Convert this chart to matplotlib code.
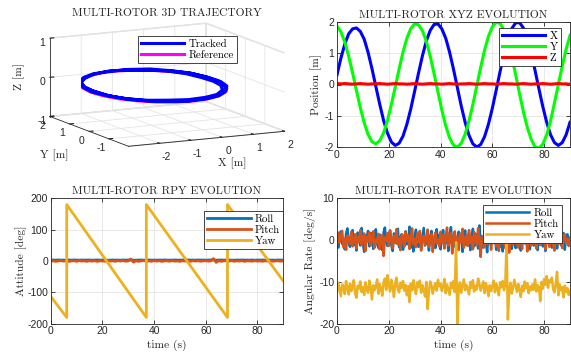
import numpy as np
import matplotlib
matplotlib.use("Agg")
import matplotlib.pyplot as plt

plt.rcParams['axes.unicode_minus'] = False
plt.rcParams['grid.color'] = '#e4e4e4'
plt.rcParams['grid.linewidth'] = 0.6

# ---- data ----
# position (top right), sampled every 1.5 s
pos_dt = 1.5
pos_x = [0.31, 0.84, 1.29, 1.62, 1.78, 1.81, 1.70, 1.45, 1.03, 0.51,
         -0.06, -0.63, -1.15, -1.56, -1.84, -1.95, -1.88, -1.65, -1.27, -0.78,
         -0.21, 0.37, 0.92, 1.39, 1.73, 1.92, 1.94, 1.78, 1.48, 1.03,
         0.49, -0.10, -0.69, -1.21, -1.63, -1.90, -2.00, -1.92, -1.67, -1.27,
         -0.76, -0.18, 0.42, 0.98, 1.45, 1.79, 1.97, 1.98, 1.81, 1.47,
         1.01, 0.45, -0.14, -0.71, -1.21, -1.61, -1.86, -1.95, -1.86, -1.61,
         -1.21]
pos_y = [1.87, 1.69, 1.36, 0.91, 0.38, -0.19, -0.74, -1.22, -1.60, -1.83,
         -1.90, -1.80, -1.55, -1.15, -0.64, -0.08, 0.50, 1.04, 1.48, 1.79,
         1.94, 1.91, 1.72, 1.38, 0.91, 0.35, -0.24, -0.82, -1.32, -1.71,
         -1.94, -2.00, -1.88, -1.59, -1.16, -0.63, -0.04, 0.55, 1.10, 1.54,
         1.85, 1.99, 1.96, 1.74, 1.38, 0.89, 0.32, -0.29, -0.87, -1.37,
         -1.75, -2.00, -2.04, -1.91, -1.61, -1.16, -0.59, 0.00, 0.59, 1.13,
         1.57]
pos_z = [0.03, 0.02, 0.03, 0.02, 0.01, 0.02, 0.03, 0.02, 0.01, 0.02,
         0.02, 0.03, 0.02, 0.01, 0.02, 0.03, 0.02, 0.02, 0.01, 0.02,
         0.03, 0.02, 0.01, 0.02, 0.03, 0.02, 0.02, 0.01, 0.02, 0.03,
         0.02, 0.01, 0.02, 0.02, 0.03, 0.02, 0.01, 0.02, 0.03, 0.02,
         0.02, 0.01, 0.02, 0.03, 0.02, 0.02, 0.01, 0.02, 0.03, 0.02,
         0.01, 0.02, 0.02, 0.03, 0.02, 0.01, 0.02, 0.03, 0.02, 0.02,
         0.01]

# reference circle for the 3D view (every 15 deg)
ref_x = [2.0, 1.93, 1.73, 1.41, 1.0, 0.52, 0.0, -0.52, -1.0, -1.41, -1.73, -1.93,
         -2.0, -1.93, -1.73, -1.41, -1.0, -0.52, 0.0, 0.52, 1.0, 1.41, 1.73, 1.93, 2.0]
ref_y = [0.0, 0.52, 1.0, 1.41, 1.73, 1.93, 2.0, 1.93, 1.73, 1.41, 1.0, 0.52,
         0.0, -0.52, -1.0, -1.41, -1.73, -1.93, -2.0, -1.93, -1.73, -1.41, -1.0, -0.52, 0.0]
ref_z = [0.0] * 25
traj_shift_x = -0.95   # the 3D ring sits left of x = 0 in the picture

# attitude (bottom left), roll / pitch every 1 s
att_dt = 1.0
roll_att = [2.8, 3.1, 2.6, 3.3, 2.9, 3.0, 2.5, 3.2, 2.7, 3.4, 2.9, 2.6, 3.1, 3.0, 2.8,
            3.3, 2.6, 2.9, 3.2, 2.7, 3.0, 3.1, 2.5, 2.9, 3.3, 2.8, 3.0, 2.6, 3.2, 2.9,
            3.1, 3.6, 2.4, 2.8, 3.0, 3.2, 2.7, 2.9, 3.3, 2.6, 3.0, 2.8, 3.1, 2.7, 3.4,
            2.9, 2.6, 3.0, 3.2, 2.8, 2.9, 3.1, 2.6, 3.3, 2.8, 3.0, 2.7, 3.2, 2.9, 3.1,
            2.6, 3.0, 3.3, 3.7, 2.3, 2.9, 3.1, 2.7, 3.0, 3.2, 2.8, 2.6, 3.1, 2.9, 3.3,
            2.7, 3.0, 2.8, 3.2, 2.6, 3.0, 2.9, 3.1, 2.7, 3.3, 2.8, 3.0, 2.6, 3.2, 2.9,
            3.0]
pitch_att = [-0.8, 0.6, -1.2, 0.3, 1.1, -0.5, 0.9, -1.4, 0.2, 0.7, -0.9, 1.3, -0.3, 0.5, -1.1,
             0.8, -0.6, 1.0, -1.3, 0.4, 0.1, -0.7, 1.2, -0.4, 0.6, -1.0, 0.9, -0.2, 1.4, -0.8,
             0.3, 6.5, -3.5, 0.7, -1.2, 0.5, 1.1, -0.6, 0.2, -0.9, 1.0, -0.3, 0.8, -1.4, 0.4,
             0.6, -0.7, 1.2, -0.5, 0.1, -1.0, 0.9, -0.2, 0.5, -1.3, 1.1, -0.4, 0.7, -0.8, 0.3,
             1.0, -0.6, 0.4, 7.5, -4.5, 0.8, -1.1, 0.2, 0.9, -0.5, 1.3, -0.9, 0.4, -0.2, 1.0,
             -1.2, 0.6, 0.1, -0.7, 1.1, -0.4, 0.5, -1.0, 0.8, -0.3, 1.2, -0.8, 0.2, 0.6, -0.5,
             0.3]
yaw_t = [0.0, 6.2, 6.2, 37.0, 37.0, 68.4, 68.4, 90.0]
yaw_att = [-113, -180, 180, -180, 180, -180, 180, -64]

# angular rates (bottom right), every 0.5 s
rate_dt = 0.5
roll_rate = [0.5, -1.8, 1.2, 2.1, -0.9, 0.3, -2.2, 1.5, 2.8, -0.4, -1.6, 0.9, 2.4, -1.1, 0.2, -2.5, 1.8, 0.6, -1.3, 2.9,
             -0.7, -2.8, 1.1, 0.4, 2.2, -1.5, -0.3, 1.7, -2.1, 0.8, 2.6, -0.9, -1.9, 1.3, 0.1, -2.4, 1.9, 3.0, -0.6, -1.4,
             0.7, 2.3, -1.2, -2.6, 1.6, 0.2, -0.8, 2.7, -1.7, 0.5, 1.4, -2.3, 0.9, 2.1, -1.0, -0.2, 3.2, -1.8, 0.6, -2.7,
             1.0, 2.5, -0.5, -1.6, 1.8, -2.0, 0.4, 2.9, -1.3, -0.1, 1.5, -2.5, 0.8, 2.2, -1.1, 0.3, -1.9, 2.6, -0.7, 1.2,
             -2.2, 0.6, 2.4, -1.4, -0.3, 1.9, -2.6, 0.9, 3.1, -0.8, -1.7, 1.3, 0.2, -2.1, 2.0, -0.4, 1.6, -2.8, 0.7, 2.3,
             -1.2, 0.1, 1.8, -2.4, 0.5, 2.7, -1.5, -0.6, 1.4, -2.0, 3.5, -0.9, 0.8, -1.8, 2.1, -0.2, -2.9, 1.7, 0.4, -1.1,
             2.6, -0.7, 1.0, -2.3, 0.3, 2.0, -1.6, 0.9, -2.7, 1.5, 2.4, -0.5, -1.4, 0.7, 2.8, -2.1, 0.2, 1.3, -1.9, 0.6,
             2.2, -1.0, -2.5, 1.1, 0.4, -0.8, 2.5, -1.7, 0.8, -2.2, 1.9, 0.1, -1.3, 2.7, -0.6, -2.4, 1.4, 0.5, 2.0, -1.5,
             0.3, -2.6, 1.6, 2.3, -0.9, 0.7, -1.8, 2.9, -0.4, 1.2, -2.0, 0.6, 2.1, -1.2, -0.3, 1.7, -2.3, 0.9, 1.4, -0.8,
             0.5]
pitch_rate = [-1.2, 1.8, -0.5, 0.9, 2.2, -1.7, 0.3, -2.3, 1.1, 0.6, -0.9, 2.0, -1.5, 0.2, 1.4, -2.0, 0.7, -0.4, 2.4, -1.1,
              0.5, 1.6, -2.6, 0.8, -0.3, 1.9, -1.3, 0.4, 2.1, -1.8, 0.1, -0.7, 1.5, -2.2, 0.9, 1.2, -3.8, 0.6, -0.2, 1.7,
              -1.4, 2.3, 0.2, -1.9, 1.0, -0.6, 2.6, -1.0, 0.4, -2.4, 1.3, 0.8, -1.6, 2.0, -0.1, 1.1, -2.1, 0.5, 2.8, -0.9,
              0.3, -1.7, 1.6, -0.4, 2.2, -2.5, 0.7, 1.0, -1.2, 0.2, 2.5, -1.6, -0.3, 1.4, -2.8, 0.6, 1.8, -0.8, 0.1, -1.5,
              2.0, -0.6, 1.2, -2.0, 0.9, 3.0, -1.3, -0.2, 1.7, -3.2, 0.4, 2.1, -1.0, 0.6, -2.4, 1.5, -0.5, 2.7, -1.8, 0.3,
              1.1, -1.4, 2.4, -0.7, 0.8, -2.2, 1.9, 0.2, -1.1, 2.9, -0.3, -4.0, 1.0, 0.5, -1.7, 2.2, -0.9, 0.4, 1.6, -2.3,
              0.7, -0.4, 2.3, -1.5, 0.9, -2.6, 1.2, 0.3, -0.8, 2.0, -1.9, 0.6, 1.5, -3.0, 0.2, 1.8, -1.1, 0.5, 2.6, -0.6,
              -1.8, 1.0, 0.4, -2.1, 2.1, -0.5, 1.3, -2.7, 0.8, 0.1, -1.3, 2.5, -0.8, 0.6, -2.0, 1.7, 0.3, -1.2, 2.2, -0.4,
              1.0, -2.2, 0.5, 1.6, -1.6, 0.2, 2.4, -0.9, -2.5, 1.3, 0.7, -1.0, 1.9, -0.3, -1.9, 0.8, 1.4, -0.7, 0.2, -1.4,
              0.6]
yaw_rate = [-12.5, -10.2, -11.8, -13.4, -10.6, -11.1, -12.9, -9.8, -11.5, -13.0, -10.4, -12.2, -11.0, -9.6, -12.7, -13.8, -10.9, -11.6, -9.9, -12.4,
            -11.3, -13.1, -10.1, -11.9, -12.6, -9.7, -11.4, -14.2, -10.8, -12.0, -11.2, -9.4, -12.8, -10.5, -11.7, -13.3, -10.0, -9.2, -11.9, -8.4,
            -10.6, -12.3, -9.5, -11.1, -13.6, -10.3, -9.0, -11.8, -12.5, -10.2, -11.4, -9.8, -12.1, -10.7, -13.2, -11.0, -14.8, -10.4, -12.0, -9.6,
            -11.5, -12.9, -10.1, -11.3, -9.7, -12.6, -10.8, -11.9, -13.5, -10.0, -16.5, -12.3, -9.9, -10.9, -12.8, -11.2, -10.3, -12.1, -9.5, -11.0,
            -10.4, -12.2, -11.1, -9.3, -12.7, -10.6, -11.8, -13.1, -10.2, -11.5, -9.8, -12.4, -0.5, -20.0, -11.3, -10.1, -12.6, -11.0, -9.4, -12.0,
            -10.7, -11.6, -13.0, -10.0, -11.4, -9.6, -12.3, -10.9, -11.8, -9.2, -10.5, -12.1, -11.0, -9.9, -12.7, -10.3, -11.5, -13.4, -10.8, -12.2,
            -11.1, -9.7, -12.5, -10.4, -11.7, -13.2, -10.1, -11.3, -9.8, -12.0, -10.6, -0.5, -19.0, -11.9, -10.2, -12.8, -11.4, -9.5, -11.0, -12.4,
            -10.5, -11.8, -13.6, -10.9, -12.2, -9.9, -11.5, -10.3, -12.7, -11.1, -12.0, -10.6, -11.9, -9.4, -12.3, -10.8, -11.2, -14.6, -10.0, -11.6,
            -9.3, -10.7, -8.6, -11.4, -9.6, -10.1, -9.0, -11.8, -12.5, -10.4, -7.6, -13.2, -10.6, -12.0, -11.3, -13.7, -10.9, -12.4, -11.5, -13.1,
            -12.2]

W, H = 571, 360
MBLUE, MORANGE, MYELLOW = '#0072BD', '#D95319', '#EDB120'
AXC = '#262626'
SERIF = 'cmr10'
SANS = 'Liberation Sans'
TS = 8.3   # title / label size


def fx(px):
    return px / W


def fy(py):
    return 1 - py / H


def style2d(ax):
    for s in ax.spines.values():
        s.set_color(AXC)
        s.set_linewidth(0.6)
    ax.tick_params(direction='in', length=3, width=0.6, top=True, right=True,
                   colors=AXC, labelsize=7.5, pad=2)
    for lab in ax.get_xticklabels() + ax.get_yticklabels():
        lab.set_fontfamily(SANS)
    ax.grid(True, color='#e4e4e4', linewidth=0.6)
    ax.set_axisbelow(True)


def legend(ax, anchor, handles=None, labels=None, transform=None):
    kw = {}
    if transform is not None:
        kw['bbox_transform'] = transform
    args = () if handles is None else (handles, labels)
    leg = ax.legend(*args, loc='upper right', bbox_to_anchor=anchor,
                    prop={'family': SERIF, 'size': 7.8},
                    frameon=True, fancybox=False, framealpha=1, edgecolor=AXC,
                    handlelength=4.0, handletextpad=0.4, labelspacing=0.12,
                    borderpad=0.3, borderaxespad=0, **kw)
    leg.get_frame().set_linewidth(0.6)
    return leg


fig = plt.figure(figsize=(W / 100, H / 100), dpi=100)

# ---- 3D trajectory ----
ax3 = fig.add_axes([fx(15), fy(171), fx(300), 168 / H], projection='3d')
ax3.set_proj_type('ortho')
ax3.computed_zorder = False
ax3.view_init(elev=11, azim=-116.7)
ax3.set_box_aspect((1, 1, 0.457), zoom=1.5)
ax3.plot(np.array(ref_x) + traj_shift_x, ref_y, ref_z, color='#ff00ff', lw=2.2,
         label='Reference', zorder=2)
ax3.plot(np.array(pos_x) + traj_shift_x, pos_y, pos_z, color='#0000ff', lw=2.2,
         label='Tracked', zorder=3)
ax3.set_xlim(-3, 2)
ax3.set_ylim(-2, 2)
ax3.set_zlim(-1, 1)
ax3.set_xticks([-2, -1, 0, 1, 2])
ax3.set_yticks([-1, 0, 1, 2])
ax3.set_zticks([-1, 0, 1])
for a in (ax3.xaxis, ax3.yaxis, ax3.zaxis):
    a.set_pane_color((1, 1, 1, 1))
    a.pane.set_edgecolor('#dcdcdc')
    a.line.set_color(AXC)
    a.line.set_linewidth(0.6)
    a._axinfo['grid']['color'] = '#e4e4e4'
    a._axinfo['grid']['linewidth'] = 0.6
    a._axinfo['tick']['inward_factor'] = 0.0
    a._axinfo['tick']['outward_factor'] = 0.3
ax3.tick_params(labelsize=7.5, colors=AXC)
ax3.tick_params(axis='x', pad=-3)
ax3.tick_params(axis='y', pad=-5)
ax3.tick_params(axis='z', pad=-6)
for lab in ax3.get_xticklabels() + ax3.get_yticklabels() + ax3.get_zticklabels():
    lab.set_fontfamily(SANS)
h, l = ax3.get_legend_handles_labels()
legend(ax3, (fx(237), fy(36)), h[::-1], l[::-1], fig.transFigure)
fig.text(fx(167), fy(13), 'MULTI-ROTOR 3D TRAJECTORY', family=SERIF, size=TS,
         ha='center', va='center', color=AXC)
fig.text(fx(19), fy(77), 'Z [m]', family=SERIF, size=TS, rotation=90,
         ha='center', va='center', color=AXC)
fig.text(fx(54), fy(155), 'Y [m]', family=SERIF, size=TS, ha='center', va='center', color=AXC)
fig.text(fx(232), fy(163), 'X [m]', family=SERIF, size=TS, ha='center', va='center', color=AXC)

# ---- XYZ evolution ----
axp = fig.add_axes([fx(337), fy(147), (570 - 337) / W, 125 / H])
tp = np.arange(len(pos_x)) * pos_dt
axp.plot(tp, pos_x, color='#0000ff', lw=2.2, label='X')
axp.plot(tp, pos_y, color='#00ff00', lw=2.2, label='Y')
axp.plot(tp, pos_z, color='#ff0000', lw=2.2, label='Z')
axp.set_xlim(0, 90)
axp.set_ylim(-2, 2)
axp.set_xticks([0, 20, 40, 60, 80])
axp.set_yticks([-2, -1, 0, 1, 2])
style2d(axp)
axp.set_title('MULTI-ROTOR XYZ EVOLUTION', family=SERIF, size=TS, pad=3, color=AXC)
axp.set_ylabel('Position [m]', family=SERIF, size=TS, labelpad=2, color=AXC)
legend(axp, (0.961, 0.952))

# ---- RPY evolution ----
axa = fig.add_axes([fx(50.7), fy(323.7), (283.3 - 50.7) / W, 125.4 / H])
ta = np.arange(len(roll_att)) * att_dt
axa.plot(ta, roll_att, color=MBLUE, lw=2.0, label='Roll')
axa.plot(ta, pitch_att, color=MORANGE, lw=2.0, label='Pitch')
axa.plot(yaw_t, yaw_att, color=MYELLOW, lw=2.0, label='Yaw')
axa.set_xlim(0, 90)
axa.set_ylim(-200, 200)
axa.set_xticks([0, 20, 40, 60, 80])
axa.set_yticks([-200, -100, 0, 100, 200])
style2d(axa)
axa.set_title('MULTI-ROTOR RPY EVOLUTION', family=SERIF, size=TS, pad=3, color=AXC)
axa.set_ylabel('Attitude [deg]', family=SERIF, size=TS, labelpad=0, color=AXC)
axa.set_xlabel('time (s)', family=SERIF, size=TS, labelpad=2, color=AXC)
legend(axa, (1.0, 0.899))

# ---- rate evolution ----
axr = fig.add_axes([fx(337), fy(323.7), (570 - 337) / W, 125.4 / H])
tr = np.arange(len(roll_rate)) * rate_dt
axr.plot(tr, roll_rate, color=MBLUE, lw=1.8, label='Roll')
axr.plot(tr, pitch_rate, color=MORANGE, lw=1.8, label='Pitch')
axr.plot(tr, yaw_rate, color=MYELLOW, lw=1.8, label='Yaw')
axr.set_xlim(0, 90)
axr.set_ylim(-20, 10)
axr.set_xticks([0, 20, 40, 60, 80])
axr.set_yticks([-20, -10, 0, 10])
style2d(axr)
axr.set_title('MULTI-ROTOR RATE EVOLUTION', family=SERIF, size=TS, pad=3, color=AXC)
axr.set_ylabel('Angular Rate [deg/s]', family=SERIF, size=TS, labelpad=2, color=AXC)
axr.set_xlabel('time (s)', family=SERIF, size=TS, labelpad=2, color=AXC)
legend(axr, (0.966, 0.947))

fig.savefig('out.png', dpi=100)
